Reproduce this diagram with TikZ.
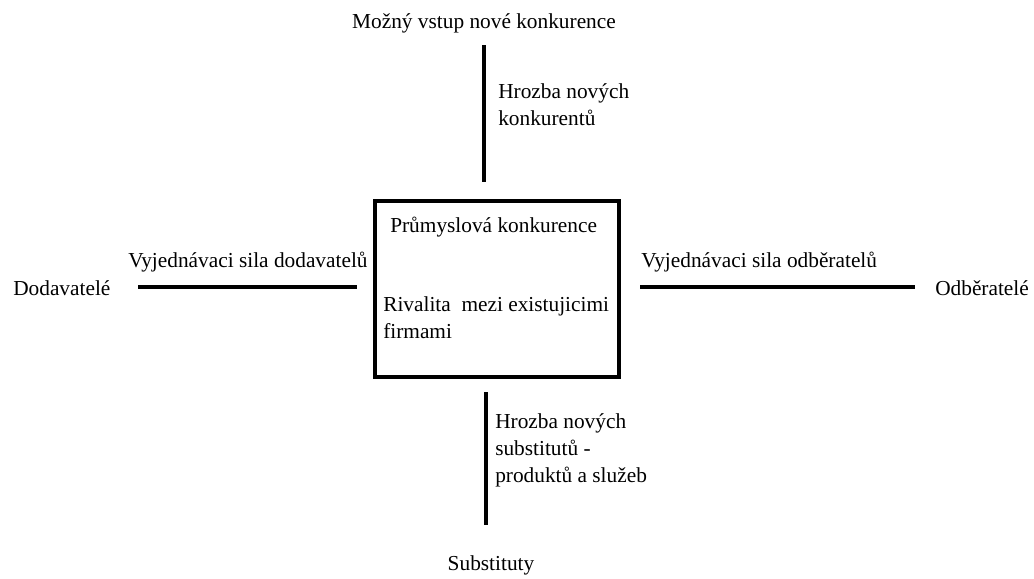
\documentclass[tikz,border=0pt]{standalone}
\usepackage{fontspec}
\setmainfont{Liberation Serif}
\usetikzlibrary{positioning}

\begin{document}
\begin{tikzpicture}[
    x=0.75pt, y=-0.75pt,
    rivalbox/.style={rectangle, draw=black, line width=3pt, minimum width=183pt, minimum height=132pt},
    txt/.style={inner sep=0pt, align=left, font=\fontsize{16}{20}\selectfont},
    force/.style={line width=3pt}
]
\useasboundingbox (0,0) rectangle (1034,578);

% Center
\node (rivalry) [rivalbox] at (497,289) {};
\node (industry) [txt, anchor=base west] at (390,232) {Průmyslová konkurence};
\node (firms) [txt, anchor=base west] at (383,338) {Rivalita\ \ mezi existujicimi\\firmami};

% Top
\node (entrants) [txt, anchor=base] at (484,28) {Možný vstup nové konkurence};
\coordinate (topstart) at (484,45);
\coordinate (topend) at (484,182);
\node (newthreat) [txt, anchor=base west] at (498,125) {Hrozba nových\\konkurentů};

% Left
\node (suppliers) [txt, anchor=base west] at (13,295) {Dodavatelé};
\coordinate (leftstart) at (138,287);
\coordinate (leftend) at (357,287);
\node (supplierpower) [txt, anchor=base west] at (128,267) {Vyjednávaci sila dodavatelů};

% Right
\node (buyers) [txt, anchor=base west] at (935,295) {Odběratelé};
\coordinate (rightstart) at (640,287);
\coordinate (rightend) at (915,287);
\node (buyerpower) [txt, anchor=base west] at (641,267) {Vyjednávaci sila odběratelů};

% Bottom
\node (substitutes) [txt, anchor=base] at (491,570) {Substituty};
\coordinate (bottomstart) at (486,392);
\coordinate (bottomend) at (486,525);
\node (subthreat) [txt, anchor=base west] at (495,482) {Hrozba nových\\substitutů -\\produktů a služeb};

% Lines
\draw[force] (topstart) -- (topend);
\draw[force] (leftstart) -- (leftend);
\draw[force] (rightstart) -- (rightend);
\draw[force] (bottomstart) -- (bottomend);

\end{tikzpicture}
\end{document}
